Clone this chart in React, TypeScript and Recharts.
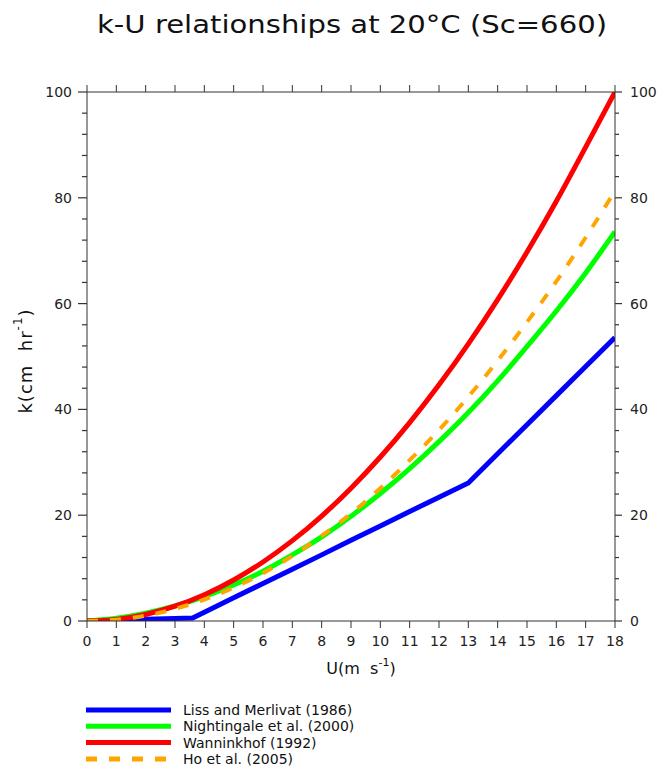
import React from 'react';
import { LineChart, Line, XAxis, YAxis, Legend } from 'recharts';

const U = [0, 1, 2, 3, 4, 5, 6, 7, 8, 9, 10, 11, 12, 13, 14, 15, 16, 17, 18];
const wanninkhof = [0, 0.31, 1.24, 2.79, 4.96, 7.75, 11.16, 15.19, 19.84, 25.11, 31.0, 37.51, 44.64, 52.39, 60.76, 69.75, 79.36, 89.59, 100.0];
const nightingale = [0, 0.52, 1.47, 2.83, 4.61, 6.81, 9.42, 12.5, 15.9, 19.8, 24.1, 28.8, 33.9, 39.4, 45.4, 51.9, 58.6, 65.8, 73.6];
const ho = [0, 0.25, 1.0, 2.28, 4.05, 6.3, 9.05, 12.3, 16.1, 20.3, 25.1, 30.4, 36.1, 42.4, 49.2, 56.5, 64.2, 72.5, 81.3];
const lmU = [0, 1, 2, 3, 3.6, 4, 5, 6, 7, 8, 9, 10, 11, 12, 13, 14, 15, 16, 17, 18];
const lissMerlivat = [0, 0.16, 0.32, 0.48, 0.58, 1.67, 4.38, 7.1, 9.8, 12.5, 15.25, 17.96, 20.7, 23.4, 26.1, 31.6, 37.1, 42.6, 48.1, 53.6];

const yTicks = [0, 4, 8, 12, 16, 20, 24, 28, 32, 36, 40, 44, 48, 52, 56, 60, 64, 68, 72, 76, 80, 84, 88, 92, 96, 100];

const seriesNames = ['Liss and Merlivat (1986)', 'Nightingale et al. (2000)', 'Wanninkhof (1992)', 'Ho et al. (2005)'];
const seriesColors = ['#0000ff', '#00ff00', '#ff0000', '#ffa500'];
const seriesDash = ['', '', '', '11 12'];

const TITLE = 'k-U relationships at 20°C (Sc=660)';

const mainData = U.map((u, i) => ({ u, w: wanninkhof[i], n: nightingale[i], h: ho[i] }));
const lmData = lmU.map((u, i) => ({ u, lm: lissMerlivat[i] }));

const FONT = '"DejaVu Sans", sans-serif';
const AXIS = '#333';

const LeftTick = (props: any) => {
  const { x, y, payload } = props;
  const major = payload.value % 20 === 0;
  const len = major ? 9 : 5;
  return (
    <g>
      <line x1={x} x2={x - len} y1={y} y2={y} stroke={AXIS} strokeWidth={1.2} />
      {major && (
        <text x={x - 15} y={y} textAnchor="end" dominantBaseline="central" fontSize={14} fontFamily={FONT} fill="#222">
          {payload.value}
        </text>
      )}
    </g>
  );
};

const RightTick = (props: any) => {
  const { x, y, payload } = props;
  const major = payload.value % 20 === 0;
  const len = major ? 7 : 4;
  return (
    <g>
      <line x1={x} x2={x + len} y1={y} y2={y} stroke={AXIS} strokeWidth={1.2} />
      {major && (
        <text x={x + 15} y={y} textAnchor="start" dominantBaseline="central" fontSize={14} fontFamily={FONT} fill="#222">
          {payload.value}
        </text>
      )}
    </g>
  );
};

const LegendContent = () => (
  <svg width={420} height={80} style={{ display: 'block' }}>
    {seriesNames.map((name, i) => {
      const cy = 15 + i * 16.3;
      return (
        <g key={name}>
          <line x1={86} x2={171} y1={cy} y2={cy} stroke={seriesColors[i]} strokeWidth={5} strokeDasharray={seriesDash[i] || undefined} />
          <text x={183} y={cy} dominantBaseline="central" fontSize={14} fontFamily={FONT} fill="#111">
            {name}
          </text>
        </g>
      );
    })}
  </svg>
);

export default function App() {
  return (
    <div style={{ position: 'absolute', left: 0, top: 0, width: 661, height: 769, background: '#fff' }}>
      <LineChart width={661} height={769} margin={{ top: 82, right: 6, bottom: 118, left: 47 }}>
        <XAxis
          xAxisId="bottom"
          type="number"
          dataKey="u"
          domain={[0, 18]}
          ticks={U}
          interval={0}
          height={30}
          tickSize={7}
          tickMargin={8}
          stroke={AXIS}
          tick={{ fontSize: 14, fontFamily: FONT, fill: '#222' }}
          allowDataOverflow
        />
        <XAxis
          xAxisId="top"
          orientation="top"
          type="number"
          dataKey="u"
          domain={[0, 18]}
          ticks={U}
          interval={0}
          height={10}
          tickSize={7}
          stroke={AXIS}
          tickFormatter={() => ''}
          allowDataOverflow
        />
        <YAxis
          yAxisId="left"
          type="number"
          domain={[0, 100]}
          ticks={yTicks}
          interval={0}
          width={40}
          tickSize={0}
          tickMargin={0}
          tickLine={false}
          stroke={AXIS}
          tick={<LeftTick />}
          allowDataOverflow
        />
        <YAxis
          yAxisId="right"
          orientation="right"
          type="number"
          domain={[0, 100]}
          ticks={yTicks}
          interval={0}
          width={40}
          tickSize={0}
          tickMargin={0}
          tickLine={false}
          stroke={AXIS}
          tick={<RightTick />}
          allowDataOverflow
        />
        <Legend layout="horizontal" verticalAlign="middle" align="center" content={<LegendContent />}
          wrapperStyle={{ position: 'absolute', left: 0, top: 695, width: 420, height: 80 }} />
        <Line xAxisId="bottom" yAxisId="left" data={lmData} dataKey="lm" name={seriesNames[0]} type="linear"
          stroke={seriesColors[0]} strokeWidth={5} dot={false} isAnimationActive={false} />
        <Line xAxisId="bottom" yAxisId="left" data={mainData} dataKey="n" name={seriesNames[1]} type="monotone"
          stroke={seriesColors[1]} strokeWidth={5} dot={false} isAnimationActive={false} />
        <Line xAxisId="bottom" yAxisId="left" data={mainData} dataKey="w" name={seriesNames[2]} type="monotone"
          stroke={seriesColors[2]} strokeWidth={5} dot={false} isAnimationActive={false} />
        <Line xAxisId="bottom" yAxisId="left" data={mainData} dataKey="h" name={seriesNames[3]} type="monotone"
          stroke={seriesColors[3]} strokeWidth={4} strokeDasharray={seriesDash[3]} dot={false} isAnimationActive={false} />
        <text x={352} y={25} textAnchor="middle" dominantBaseline="central" fontSize={24} fontFamily={FONT}
          fill="#111" textLength={510} lengthAdjust="spacingAndGlyphs">{TITLE}</text>
        <text x={361} y={668} textAnchor="middle" dominantBaseline="central" fontSize={16} fontFamily={FONT} fill="#111"
          style={{ whiteSpace: 'pre' }}>
          {'U(m  s'}<tspan dy={-6} fontSize={11}>-1</tspan><tspan dy={6}>)</tspan>
        </text>
        <text x={25} y={361} transform="rotate(-90, 25, 361)" textAnchor="middle" dominantBaseline="central" fontSize={18}
          fontFamily={FONT} fill="#111" letterSpacing={1} style={{ whiteSpace: 'pre' }}>
          {'k(cm  hr'}<tspan dy={-7} fontSize={12}>-1</tspan><tspan dy={7}>)</tspan>
        </text>
      </LineChart>
    </div>
  );
}
